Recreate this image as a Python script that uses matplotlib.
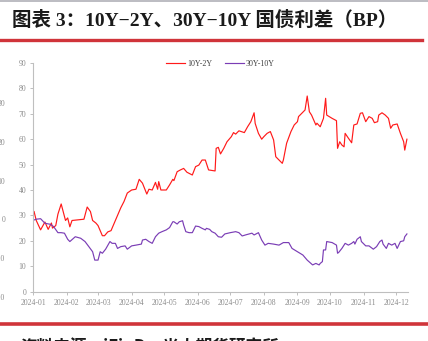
import pandas as pd
import matplotlib
matplotlib.use('Agg')
import matplotlib.pyplot as plt
import matplotlib.dates as mdates
from matplotlib.lines import Line2D

# 10Y-2Y spread (BP)
red_dates = ['2024-01-02', '2024-01-04', '2024-01-08', '2024-01-12', '2024-01-15', '2024-01-18',
             '2024-01-19', '2024-01-22', '2024-01-24', '2024-01-27', '2024-01-31', '2024-02-02',
             '2024-02-04', '2024-02-06', '2024-02-17', '2024-02-20', '2024-02-23', '2024-02-25',
             '2024-02-28', '2024-03-01', '2024-03-05', '2024-03-07', '2024-03-10', '2024-03-13',
             '2024-03-14', '2024-03-18', '2024-03-22', '2024-03-25', '2024-03-28', '2024-04-01',
             '2024-04-05', '2024-04-08', '2024-04-11', '2024-04-15', '2024-04-17', '2024-04-20',
             '2024-04-23', '2024-04-25', '2024-04-26', '2024-04-28', '2024-05-03', '2024-05-06',
             '2024-05-09', '2024-05-10', '2024-05-13', '2024-05-16', '2024-05-19', '2024-05-22',
             '2024-05-27', '2024-05-30', '2024-06-02', '2024-06-05', '2024-06-08', '2024-06-11',
             '2024-06-17', '2024-06-18', '2024-06-20', '2024-06-22', '2024-06-25', '2024-06-28',
             '2024-07-02', '2024-07-04', '2024-07-06', '2024-07-09', '2024-07-14', '2024-07-17',
             '2024-07-20', '2024-07-23', '2024-07-24', '2024-07-27', '2024-07-30', '2024-08-01',
             '2024-08-04', '2024-08-07', '2024-08-10', '2024-08-12', '2024-08-15', '2024-08-18',
             '2024-08-19', '2024-08-22', '2024-08-26', '2024-08-29', '2024-09-01', '2024-09-02',
             '2024-09-05', '2024-09-08', '2024-09-10', '2024-09-12', '2024-09-14', '2024-09-18',
             '2024-09-19', '2024-09-22', '2024-09-25', '2024-09-27', '2024-09-28', '2024-10-03',
             '2024-10-07', '2024-10-08', '2024-10-10', '2024-10-12', '2024-10-14', '2024-10-15',
             '2024-10-18', '2024-10-21', '2024-10-23', '2024-10-26', '2024-10-29', '2024-10-31',
             '2024-11-03', '2024-11-06', '2024-11-09', '2024-11-11', '2024-11-14', '2024-11-15',
             '2024-11-18', '2024-11-21', '2024-11-24', '2024-11-26', '2024-11-28', '2024-12-02',
             '2024-12-05', '2024-12-08', '2024-12-09', '2024-12-11']
red_vals = [31.5, 28.0, 24.3, 27.4, 24.5, 27.0,
            25.0, 26.0, 30.5, 34.5, 28.0, 29.0,
            25.5, 28.0, 28.5, 33.3, 31.5, 28.0,
            27.0, 26.0, 22.0, 22.0, 23.5, 24.0,
            25.0, 29.0, 33.0, 35.5, 38.8, 40.0,
            40.3, 44.2, 42.7, 38.4, 40.3, 40.0,
            43.0, 40.3, 43.3, 40.0, 40.0, 42.0,
            44.2, 43.7, 47.2, 47.9, 48.5, 47.0,
            45.9, 49.2, 49.8, 51.8, 51.8, 47.9,
            47.5, 56.4, 56.8, 54.2, 56.4, 59.0,
            61.0, 62.6, 62.0, 63.3, 62.6, 64.9,
            66.9, 70.4, 66.2, 62.3, 60.0, 61.0,
            62.3, 63.0, 59.7, 53.1, 51.8, 50.5,
            51.8, 58.4, 63.0, 65.6, 66.9, 68.9,
            70.2, 71.5, 77.0, 70.8, 69.5, 65.6,
            66.3, 64.9, 68.2, 76.1, 69.5, 68.2,
            67.3, 56.4, 59.0, 57.7, 57.0, 62.3,
            60.4, 58.6, 65.6, 66.0, 70.2, 70.4,
            66.9, 68.9, 68.2, 66.5, 66.9, 69.5,
            70.4, 69.5, 68.2, 64.3, 65.6, 66.0,
            62.3, 59.0, 55.7, 60.0]

# 30Y-10Y spread (BP)
purple_dates = ['2024-01-02', '2024-01-04', '2024-01-08', '2024-01-12', '2024-01-17', '2024-01-20',
                '2024-01-24', '2024-01-27', '2024-01-30', '2024-02-02', '2024-02-04', '2024-02-09',
                '2024-02-14', '2024-02-18', '2024-02-21', '2024-02-25', '2024-02-27', '2024-03-01',
                '2024-03-03', '2024-03-05', '2024-03-08', '2024-03-12', '2024-03-14', '2024-03-17',
                '2024-03-19', '2024-03-22', '2024-03-26', '2024-03-28', '2024-04-01', '2024-04-05',
                '2024-04-10', '2024-04-11', '2024-04-14', '2024-04-17', '2024-04-20', '2024-04-23',
                '2024-04-26', '2024-04-29', '2024-05-03', '2024-05-06', '2024-05-09', '2024-05-10',
                '2024-05-13', '2024-05-15', '2024-05-18', '2024-05-19', '2024-05-21', '2024-05-24',
                '2024-05-27', '2024-05-30', '2024-06-02', '2024-06-05', '2024-06-08', '2024-06-09',
                '2024-06-12', '2024-06-14', '2024-06-17', '2024-06-20', '2024-06-23', '2024-06-26',
                '2024-07-01', '2024-07-06', '2024-07-09', '2024-07-12', '2024-07-15', '2024-07-21',
                '2024-07-23', '2024-07-27', '2024-07-30', '2024-08-02', '2024-08-05', '2024-08-10',
                '2024-08-15', '2024-08-19', '2024-08-24', '2024-08-27', '2024-09-01', '2024-09-06',
                '2024-09-10', '2024-09-15', '2024-09-18', '2024-09-21', '2024-09-22', '2024-09-24',
                '2024-09-25', '2024-09-27', '2024-09-28', '2024-10-03', '2024-10-07', '2024-10-08',
                '2024-10-09', '2024-10-12', '2024-10-15', '2024-10-18', '2024-10-21', '2024-10-23',
                '2024-10-24', '2024-10-26', '2024-10-29', '2024-10-30', '2024-11-03', '2024-11-06',
                '2024-11-10', '2024-11-13', '2024-11-16', '2024-11-18', '2024-11-19', '2024-11-22',
                '2024-11-24', '2024-11-27', '2024-11-30', '2024-12-02', '2024-12-05', '2024-12-08',
                '2024-12-09', '2024-12-11']
purple_vals = [28.2, 28.5, 28.7, 26.9, 26.5, 25.6,
               23.2, 23.2, 23.0, 20.6, 19.7, 21.6,
               21.0, 19.7, 18.0, 15.7, 12.4, 12.4,
               15.7, 15.1, 16.7, 19.7, 19.0, 19.0,
               17.0, 17.7, 18.0, 16.7, 18.0, 18.3,
               18.7, 20.3, 20.6, 19.7, 19.0, 21.6,
               23.0, 23.6, 24.3, 25.2, 27.5, 27.5,
               26.6, 27.5, 27.9, 26.2, 23.6, 23.2,
               23.2, 25.8, 25.6, 24.9, 24.3, 24.9,
               24.5, 23.6, 23.0, 21.6, 21.4, 22.7,
               23.2, 23.6, 23.2, 21.9, 22.3, 23.0,
               22.3, 23.2, 20.3, 18.3, 19.0, 18.7,
               18.3, 19.3, 19.3, 17.0, 15.7, 14.4,
               12.4, 10.5, 11.1, 10.5, 11.1, 11.8,
               16.4, 16.4, 19.7, 19.3, 18.3, 15.1,
               15.4, 17.0, 19.0, 18.3, 19.0, 19.7,
               18.7, 20.6, 21.6, 19.7, 18.0, 18.0,
               16.7, 17.7, 19.7, 20.3, 18.7, 17.0,
               19.0, 18.3, 19.0, 17.0, 19.7, 20.0,
               21.6, 22.7]

y_ticks = [0, 10, 20, 30, 40, 50, 60, 70, 80, 90]
# cut-off axis labels of the neighbouring chart on the left edge
edge_labels = ['30', '20', '10', '0', '-10', '-20']

title = '图表 3：10Y−2Y、30Y−10Y 国债利差（BP）'
source = '资料来源：iFinD，光大期货研究所'

W, H = 428, 341
fig = plt.figure(figsize=(W / 100, H / 100), dpi=100)
fig.patch.set_facecolor('white')

serif = ['Liberation Serif', 'DejaVu Serif']
cjk = ['Liberation Serif', 'Noto Sans CJK SC', 'DejaVu Sans']
grey = '#8c8c8c'

ax = fig.add_axes([33 / W, 1 - 291.6 / H, (408 - 33) / W, (291.6 - 63) / H])

red_x = pd.to_datetime(red_dates)
purple_x = pd.to_datetime(purple_dates)
ax.plot(red_x, red_vals, color='#ff1a1a', lw=0.85, label='10Y-2Y')
ax.plot(purple_x, purple_vals, color='#7a3db5', lw=0.85, label='30Y-10Y')

ax.set_ylim(0, 90)
ax.set_yticks(y_ticks)
ax.set_xlim(pd.Timestamp('2024-01-01'), pd.Timestamp('2024-12-12'))
ax.xaxis.set_major_locator(mdates.MonthLocator())
ax.xaxis.set_major_formatter(mdates.DateFormatter('%Y-%m'))

for s in ['top', 'right']:
    ax.spines[s].set_visible(False)
for s in ['left', 'bottom']:
    ax.spines[s].set_color('#bfbfbf')
    ax.spines[s].set_linewidth(0.8)
ax.tick_params(axis='both', colors='#bfbfbf', length=2, width=0.7, pad=3,
               labelsize=5.6, labelcolor=grey)
for lab in ax.get_xticklabels() + ax.get_yticklabels():
    lab.set_family(serif)

leg = ax.legend(loc='lower center', bbox_to_anchor=(0.5, 0.965), ncol=2, frameon=False,
                prop={'family': serif, 'size': 5.8}, handlelength=2.3, handletextpad=0.3,
                columnspacing=1.6, borderaxespad=0)
for t in leg.get_texts():
    t.set_color('#404040')

# header, rules and footer
fig.text(12 / W, 1 - 20 / H, title, family=cjk, weight='bold', fontsize=14,
         color='#1a1a1a', va='center', ha='left')
fig.add_artist(Line2D([0, 422 / W], [1 - 40 / H, 1 - 40 / H], color='#d0343a', lw=2.4))
fig.add_artist(Line2D([0, 1], [1 - 0.5 / H, 1 - 0.5 / H], color='#b0b0b8', lw=1.2))
fig.add_artist(Line2D([0, 1], [1 - 323.5 / H, 1 - 323.5 / H], color='#d0343a', lw=2.6))
fig.text(20 / W, 1 - 348 / H, source, family=['Noto Sans CJK SC', 'DejaVu Sans'],
         weight='bold', fontsize=12, color='#1a1a1a', va='center', ha='left')

for i, lab in enumerate(edge_labels):
    fig.text(5 / W, 1 - (104 + 38.8 * i) / H, lab, family=serif, fontsize=5.6,
             color=grey, ha='right', va='center')

fig.savefig('out.png', dpi=100)
